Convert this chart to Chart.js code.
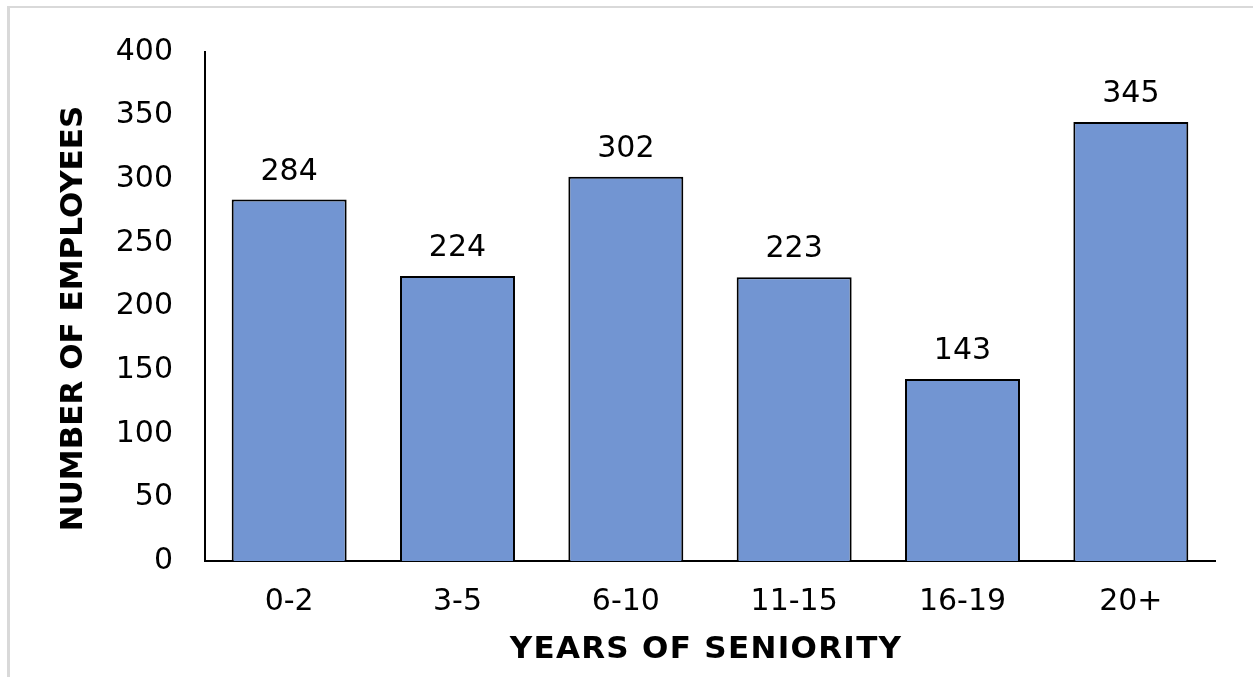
<!DOCTYPE html>
<html>
<head>
<meta charset="utf-8">
<script src="https://cdn.jsdelivr.net/npm/chart.js@4"></script>
<style>
  html, body { margin: 0; padding: 0; background: #fff; }
  #wrap { position: relative; width: 1253px; height: 677px; overflow: hidden; }
  #frame { position: absolute; left: 7px; top: 6px; width: 1400px; height: 800px;
           border-top: 2px solid #d9d9d9; border-left: 3px solid #d9d9d9; }
  canvas { position: absolute; left: 0; top: 0; }
</style>
</head>
<body>
<div id="wrap">
  <div id="frame"></div>
  <canvas id="chart" width="1253" height="677"></canvas>
</div>
<script>
// Employees grouped by years of seniority
const categories = ['0-2', '3-5', '6-10', '11-15', '16-19', '20+'];
const employees = [284, 224, 302, 223, 143, 345];
const yTicks = [0, 50, 100, 150, 200, 250, 300, 350, 400];
const xTitle = 'YEARS OF SENIORITY';
const yTitle = 'NUMBER OF EMPLOYEES';

const FONT = "'DejaVu Sans', Verdana, sans-serif";

// Writes each bar's value just above it
const valueLabels = {
  id: 'valueLabels',
  afterDatasetsDraw(chart) {
    const ctx = chart.ctx;
    const meta = chart.getDatasetMeta(0);
    ctx.save();
    ctx.font = '30px ' + FONT;
    ctx.fillStyle = '#000';
    ctx.textAlign = 'center';
    ctx.textBaseline = 'alphabetic';
    meta.data.forEach((bar, i) => {
      ctx.fillText(String(employees[i]), bar.x, bar.y - 20);
    });
    ctx.restore();
  }
};

// Bold axis titles, placed relative to the chart area
const axisTitles = {
  id: 'axisTitles',
  afterDraw(chart) {
    const ctx = chart.ctx;
    const area = chart.chartArea;
    ctx.save();
    ctx.font = 'bold 31px ' + FONT;
    ctx.fillStyle = '#000';
    ctx.textAlign = 'center';
    ctx.textBaseline = 'alphabetic';
    ctx.letterSpacing = '1.3px';
    ctx.fillText(xTitle, (area.left + area.right) / 2 - 4, area.bottom + 97);
    ctx.letterSpacing = '0px';
    ctx.translate(area.left - 123, (area.top + area.bottom) / 2 + 12);
    ctx.rotate(-Math.PI / 2);
    ctx.fillText(yTitle, 0, 0);
    ctx.restore();
  }
};

new Chart(document.getElementById('chart'), {
  type: 'bar',
  data: {
    labels: categories,
    datasets: [{
      data: employees,
      backgroundColor: '#7295d2',
      borderColor: '#000',
      borderWidth: 2,
      barPercentage: 0.683,
      categoryPercentage: 1.0
    }]
  },
  options: {
    responsive: false,
    animation: false,
    devicePixelRatio: 1,
    layout: { padding: { top: 52, right: 38, left: 0, bottom: 0 } },
    plugins: { legend: { display: false }, tooltip: { enabled: false } },
    scales: {
      x: {
        grid: { display: false, drawTicks: false },
        border: { display: true, color: '#000', width: 2 },
        ticks: { color: '#000', font: { family: FONT, size: 30 }, padding: 23 },
        afterFit(scale) { scale.height = 116; }
      },
      y: {
        min: 0, max: 400,
        afterBuildTicks(scale) { scale.ticks = yTicks.map(v => ({ value: v })); },
        grid: { display: false, drawTicks: false },
        border: { display: true, color: '#000', width: 2 },
        ticks: { color: '#000', font: { family: FONT, size: 30 }, padding: 32 },
        afterFit(scale) { scale.width = 205; }
      }
    }
  },
  plugins: [valueLabels, axisTitles]
});
</script>
</body>
</html>
